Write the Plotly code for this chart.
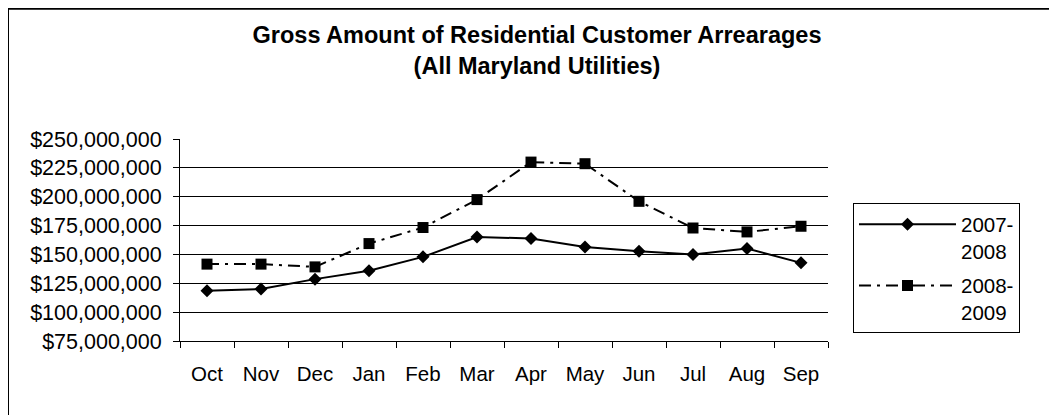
import plotly.graph_objects as go

months = ["Oct", "Nov", "Dec", "Jan", "Feb", "Mar", "Apr", "May", "Jun", "Jul", "Aug", "Sep"]
series_2007_2008 = [118.5e6, 120.0e6, 128.6e6, 135.8e6, 147.9e6, 165.1e6, 163.8e6, 156.5e6, 152.8e6, 149.9e6, 155.1e6, 142.7e6]
series_2008_2009 = [141.6e6, 141.6e6, 139.2e6, 159.4e6, 173.3e6, 197.5e6, 230.0e6, 228.6e6, 196.0e6, 172.9e6, 169.5e6, 174.4e6]
y_ticks = [75e6, 100e6, 125e6, 150e6, 175e6, 200e6, 225e6, 250e6]

FONT = "Liberation Sans, Arial, sans-serif"
OFF = 8  # page body margin
W, H = 1057, 415
# plot area in screen pixels: x 180..828, y 138.5..341
L = 180 - OFF
T = 138.5 - OFF
R = W - (828 - OFF)
B = H - (341 - OFF)
pw, ph = W - L - R, H - T - B


def px_x(p):
    return (p - OFF - L) / pw


def px_y(p):
    return (H - B - (p - OFF)) / ph


fig = go.Figure()
fig.add_trace(go.Scatter(
    x=months, y=series_2007_2008, name="2007-<br>2008", mode="lines+markers",
    legendgroup="a",
    line=dict(color="black", width=2),
    marker=dict(symbol="diamond", size=10, color="black"),
))
fig.add_trace(go.Scatter(
    x=months, y=series_2008_2009, name="2008-<br>2009", mode="lines+markers",
    legendgroup="b",
    line=dict(color="black", width=2, dash="12px,6px,3px,6px"),
    marker=dict(symbol="square", size=11, color="black"),
))

fig.update_layout(
    width=W, height=H,
    margin=dict(l=L, r=R, t=T, b=B),
    paper_bgcolor="white", plot_bgcolor="white",
    font=dict(family=FONT, color="black", size=20),
    title=dict(
        text="<b>Gross Amount of Residential Customer Arrearages<br>(All Maryland Utilities)</b>",
        font=dict(family=FONT, size=23.5, color="black"),
        x=(537 - OFF) / W, xanchor="center", xref="container",
        y=1 - 35 / H, yanchor="top", yref="container",
    ),
    showlegend=True,
    legend=dict(
        x=px_x(853), xanchor="left", y=px_y(203), yanchor="top",
        bordercolor="black", borderwidth=1, bgcolor="white",
        font=dict(family=FONT, size=20.5, color="black"),
        valign="top", itemwidth=97, tracegroupgap=5,
    ),
    xaxis=dict(
        type="category", tickson="boundaries", range=[-0.5, len(months) - 0.5],
        showline=True, linecolor="black", linewidth=1,
        ticks="outside", ticklen=6, tickcolor="black",
        showgrid=False, tickfont=dict(size=20.5),
        ticklabelstandoff=14,
    ),
    yaxis=dict(
        range=[75e6, 250e6], tickvals=y_ticks, tickformat="$,.0f",
        showline=True, linecolor="black", linewidth=1,
        ticks="outside", ticklen=6, tickcolor="black",
        showgrid=True, gridcolor="black", gridwidth=1,
        zeroline=False, tickfont=dict(size=21.5),
        ticklabelstandoff=7,
    ),
    shapes=[dict(
        type="rect", xref="paper", yref="paper",
        x0=px_x(8), x1=px_x(1075), y0=px_y(430), y1=px_y(8),
        line=dict(color="black", width=2), fillcolor="rgba(0,0,0,0)",
        layer="below",
    )],
)

fig.write_html("out.html")
